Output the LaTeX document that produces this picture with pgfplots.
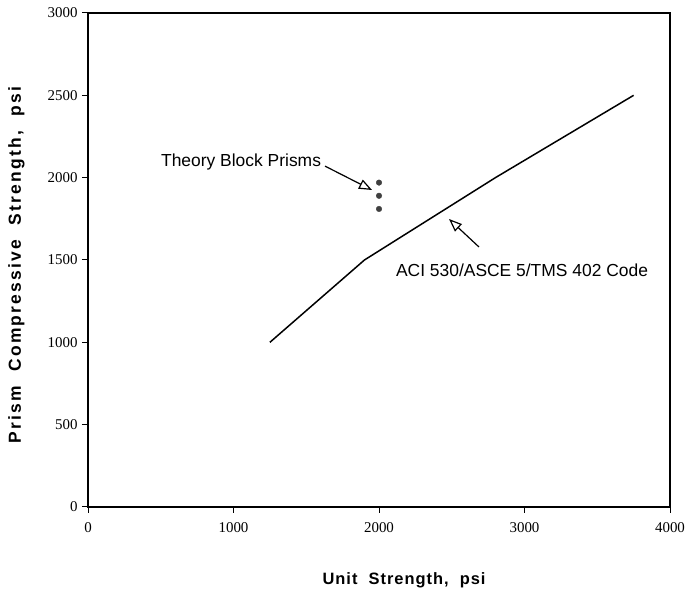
\documentclass[border=0pt]{standalone}
\usepackage{fontspec}
\setmainfont{Liberation Serif}
\setsansfont{Liberation Sans}
\newfontfamily\labfontx[LetterSpace=6]{Liberation Sans}
\newfontfamily\labfonty[LetterSpace=13]{Liberation Sans}
\usepackage{pgfplots}
\pgfplotsset{compat=1.18}
\usetikzlibrary{arrows.meta}
\begin{document}
\begin{tikzpicture}[x=1bp,y=1bp]
\useasboundingbox (0,0) rectangle (689,591);
\begin{axis}[
  at={(88bp,84bp)}, anchor=origin,
  scale only axis, width=582bp, height=494bp,
  xmin=0, xmax=4000, ymin=0, ymax=3000,
  xtick={0,1000,2000,3000,4000},
  ytick={0,500,1000,1500,2000,2500,3000},
  tick align=outside, tick pos=left,
  major tick length=6bp,
  axis line style={line width=1.1pt},
  every tick/.style={line width=1pt, black},
  /pgf/number format/assume math mode=true,
  /pgf/number format/1000 sep={},
  tick label style={font=\fontsize{15}{15}\selectfont},
  xticklabel style={yshift=-6bp},
  yticklabel style={xshift=-1bp},
  xlabel={\labfontx\bfseries\fontsize{16.5}{16.5}\selectfont Unit\ \ Strength,\ \ psi},
  ylabel={\labfonty\bfseries\fontsize{17.5}{17.5}\selectfont Prism\ \ Compressive\ \ Strength,\ \ psi},
  xlabel style={at={(axis description cs:0.543,0)}, anchor=north, yshift=-62bp},
  ylabel style={at={(axis description cs:0,0.49)}, anchor=south, yshift=60bp},
  clip=false,
]
\addplot[black, line width=1.5pt] coordinates {(1250,1000) (1900,1500) (2800,2000) (3750,2500)};
\addplot[only marks, mark=*, mark size=2.8pt, mark options={fill=black!75, draw=black!75}] coordinates {(2000,1970) (2000,1890) (2000,1810)};
\node[font=\sffamily\fontsize{17.5}{17.5}\selectfont] at (axis cs:1052,2095) {Theory Block Prisms};
\draw[line width=1.2pt, -{Triangle[open, length=13bp, width=10bp]}] (axis cs:1629,2070) -- (axis cs:1952,1925);
\node[font=\sffamily\fontsize{17.5}{17.5}\selectfont] at (axis cs:2983,1439) {ACI 530/ASCE 5/TMS 402 Code};
\draw[line width=1.2pt, -{Triangle[open, length=13bp, width=10bp]}] (axis cs:2687,1579) -- (axis cs:2481,1749);
\end{axis}
\end{tikzpicture}
\end{document}
